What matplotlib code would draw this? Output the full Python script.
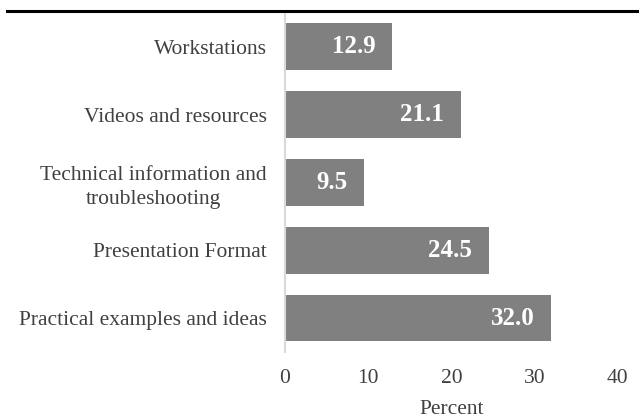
import matplotlib.pyplot as plt
from matplotlib.lines import Line2D

categories = [
    "Practical examples and ideas",
    "Presentation Format",
    "Technical information and\ntroubleshooting",
    "Videos and resources",
    "Workstations",
]
percent = [32.0, 24.5, 9.5, 21.1, 12.9]
x_ticks = [0, 10, 20, 30, 40]

plt.rcParams["font.family"] = ["Liberation Serif", "DejaVu Serif"]
text_color = "#404040"

fig = plt.figure(figsize=(6.39, 4.18), dpi=100)
ax = fig.add_axes([0.446, 0.158, 0.521, 0.811])

bars = ax.barh(range(len(categories)), percent, height=0.69, color="#808080")
for bar, val in zip(bars, percent):
    ax.annotate(f"{val:.1f}", (bar.get_width(), bar.get_y() + bar.get_height() / 2),
                xytext=(-12, 0), textcoords="offset points", ha="right", va="center",
                color="white", fontweight="bold", fontsize=18)

ax.set_yticks(range(len(categories)))
ax.set_yticklabels(categories, fontsize=15.5, color=text_color, multialignment="center",
                   linespacing=1.35)
ax.set_xticks(x_ticks)
ax.set_xticklabels([str(t) for t in x_ticks], fontsize=15.5, color=text_color)
ax.set_xlim(0, 40)
ax.set_ylim(-0.5, len(categories) - 0.5)
ax.tick_params(axis="both", length=0)
ax.tick_params(axis="y", pad=13)
ax.tick_params(axis="x", pad=12)
ax.set_xlabel("Percent", fontsize=15.5, color=text_color, labelpad=9)

for side in ["top", "right", "bottom"]:
    ax.spines[side].set_visible(False)
ax.spines["left"].set_color("#d9d9d9")
ax.spines["left"].set_linewidth(1.5)

# black rule across the top of the figure
fig.add_artist(Line2D([0.011, 1.0], [0.974, 0.974], color="black", linewidth=2.2,
                      transform=fig.transFigure))

fig.savefig("out.png", dpi=100)
